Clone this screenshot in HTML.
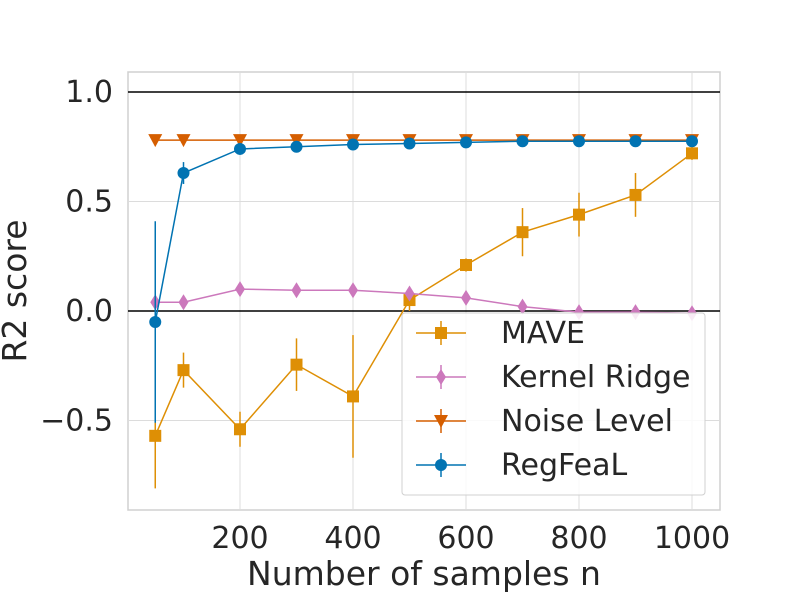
<!DOCTYPE html>
<html><head><meta charset="utf-8"><style>body{margin:0;background:#fff}svg{font-family:"DejaVu Sans","Liberation Sans",sans-serif}</style></head>
<body>
<svg id="chart" width="800" height="600" viewBox="0 0 800 600"></svg>
<script>
const xs=[50,100,200,300,400,500,600,700,800,900,1000];
const maveY=[-0.57,-0.27,-0.54,-0.245,-0.39,0.05,0.21,0.36,0.44,0.53,0.72];
const maveErr=[0.24,0.08,0.08,0.12,0.28,0.05,0.03,0.11,0.1,0.1,0.03];
const krY=[0.04,0.04,0.10,0.095,0.095,0.08,0.06,0.02,-0.005,-0.005,-0.01];
const krErr=[0.01,0.01,0.01,0.01,0.01,0.01,0.01,0.01,0.01,0.01,0.01];
const noiseY=[0.78,0.78,0.78,0.78,0.78,0.78,0.78,0.78,0.78,0.78,0.78];
const regY=[-0.05,0.63,0.74,0.75,0.76,0.765,0.77,0.775,0.775,0.775,0.775];
const regErr=[0.46,0.05,0.02,0.02,0.02,0.01,0.01,0.01,0.01,0.01,0.01];
const xTicks=[200,400,600,800,1000];
const yTicks=[-0.5,0,0.5,1.0];
const yTickLabels=["\u22120.5","0.0","0.5","1.0"];
const L=128,R=720,T=72,B=510;
const X=v=>127+(v)*0.565;
const Y=v=>311-v*219;
const svg=document.getElementById('chart');const NS='http://www.w3.org/2000/svg';
function mk(t,a,p){const e=document.createElementNS(NS,t);for(const k in a)e.setAttribute(k,a[k]);(p||svg).appendChild(e);return e;}
let e;
e=mk('rect',{x:L,y:T,width:R-L,height:B-T,fill:'#fff',stroke:'#d0d0d0','stroke-width':1.5});

xTicks.forEach(t=>{e=mk('line',{x1:X(t),x2:X(t),y1:T,y2:B,stroke:'#dcdcdc'});
e=mk('text',{x:X(t),y:548,'text-anchor':'middle','font-size':30,fill:'#262626'});e.textContent=t;});
yTicks.forEach((t,i)=>{e=mk('line',{x1:L,x2:R,y1:Y(t),y2:Y(t),stroke:'#dcdcdc'});
e=mk('text',{x:113,y:Y(t)+10,'text-anchor':'end','font-size':30,fill:'#262626'});e.textContent=yTickLabels[i];});
[0,1].forEach(v=>{e=mk('line',{x1:L,x2:R,y1:Y(v),y2:Y(v),stroke:'#000','stroke-width':1.5});});
function marker(g,type,x,y,c){
 if(type==='s')return mk('rect',{x:x-6,y:y-6,width:12,height:12,fill:c},g);
 if(type==='d')return mk('polygon',{points:`${x},${y-8} ${x+5},${y} ${x},${y+8} ${x-5},${y}`,fill:c},g);
 if(type==='v')return mk('polygon',{points:`${x-7},${y-6} ${x+7},${y-6} ${x},${y+7}`,fill:c},g);
 return mk('circle',{cx:x,cy:y,r:6,fill:c},g);}
function series(name,ys,errs,c,m){
 const g=mk('g',{});
 xs.forEach((x,i)=>{if(errs){e=mk('line',{x1:X(x),x2:X(x),y1:Y(ys[i]-errs[i]),y2:Y(ys[i]+errs[i]),stroke:c,'stroke-width':1.5},g);}});
 e=mk('polyline',{points:xs.map((x,i)=>X(x)+','+Y(ys[i])).join(' '),fill:'none',stroke:c,'stroke-width':1.5},g);
 
 xs.forEach((x,i)=>{e=marker(g,m,X(x),Y(ys[i]),c);});}
series('mave-series',maveY,maveErr,'#DE8F05','s');
series('kernel-ridge-series',krY,krErr,'#CC78BC','d');
series('noise-level-series',noiseY,null,'#D55E00','v');
series('regfeal-series',regY,regErr,'#0173B2','o');
const lg=mk('g',{});
mk('rect',{x:402,y:313,width:303,height:182,fill:'#fff','fill-opacity':0.85,stroke:'#d0d0d0',rx:3},lg);
const legNames=['MAVE','Kernel Ridge','Noise Level','RegFeaL'];const legC=['#DE8F05','#CC78BC','#D55E00','#0173B2'];const legM=['s','d','v','o'];
legNames.forEach((n,i)=>{const y=333+i*44;const g=mk('g',{},lg);
 mk('line',{x1:416,x2:466,y1:y,y2:y,stroke:legC[i],'stroke-width':1.5},g);
 mk('line',{x1:441,x2:441,y1:y-12,y2:y+12,stroke:legC[i],'stroke-width':1.5},g);
 marker(g,legM[i],441,y,legC[i]);
 const t=mk('text',{x:501,y:y+10,'font-size':30,fill:'#262626'},g);t.textContent=n;});
e=mk('text',{x:424,y:585,'text-anchor':'middle','font-size':33,fill:'#262626'});e.textContent='Number of samples n';
e=mk('text',{x:0,y:0,'text-anchor':'middle','font-size':33,fill:'#262626',transform:'translate(26,291) rotate(-90)'});e.textContent='R2 score';
</script>
</body></html>
